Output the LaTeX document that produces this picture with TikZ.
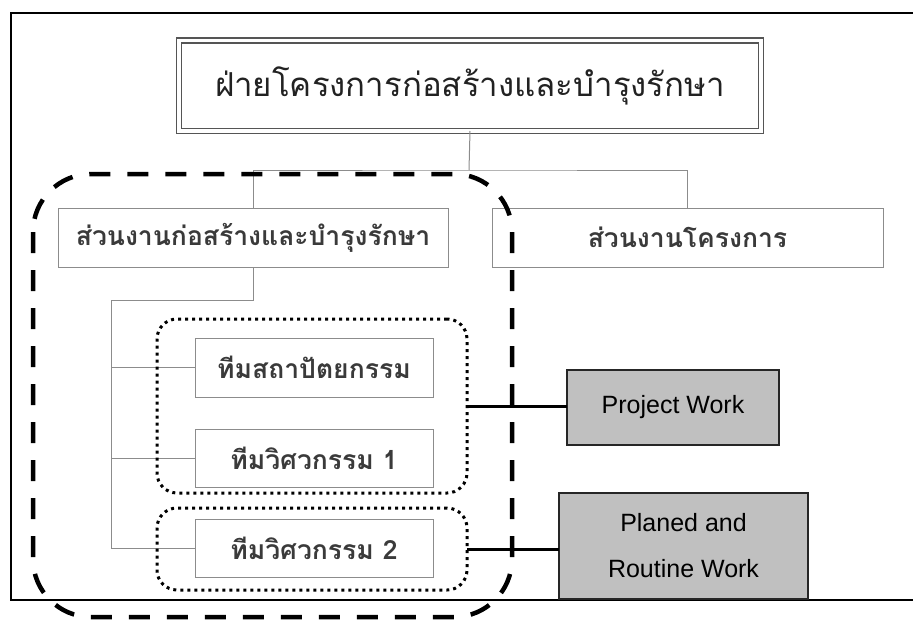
\documentclass[tikz,border=0pt]{standalone}
\usepackage{fontspec}
\setmainfont{Liberation Sans}
\newfontfamily\thaifont[Script=Thai]{Loma}
\definecolor{boxline}{HTML}{8C8C8C}
\definecolor{toptext}{HTML}{222222}
\definecolor{orgtext}{HTML}{3A3A3A}
\definecolor{workfill}{HTML}{C0C0C0}
\definecolor{topline}{HTML}{555555}
\tikzset{
  topbox/.style={draw=topline, double=white, double distance=3.5pt, line width=1.3pt,
    inner sep=0pt, outer sep=0pt, minimum width=582pt, minimum height=90.5pt,
    text=toptext, font=\thaifont\fontsize{33}{40}\selectfont},
  orgbox/.style={draw=boxline, line width=1pt, fill=white, inner sep=0pt, outer sep=0pt,
    text=orgtext, font=\thaifont\bfseries\fontsize{26.5}{30}\selectfont},
  orgline/.style={draw=boxline, line width=1pt},
  grpdot/.style={draw=black, line width=3pt, dash pattern=on 3pt off 4pt,
    rounded corners=20pt, inner sep=0pt, outer sep=0pt},
  bigdash/.style={draw=black, line width=4.5pt, dash pattern=on 21pt off 17pt,
    rounded corners=58pt},
  workbox/.style={draw=black!85, line width=1.5pt, fill=workfill, inner sep=0pt, outer sep=0pt,
    align=center, font=\fontsize{25}{46}\selectfont},
  worklink/.style={draw=black, line width=3pt}
}
\begin{document}
\begin{tikzpicture}[x=1pt,y=-1pt]
\useasboundingbox (0,0) rectangle (913,619);
% frame
\draw[line width=2.5pt] (913,13) -- (11,13) -- (11,600) -- (913,600);
% boxes
\node[topbox] (top) at (470,85.75) {ฝ่ายโครงการก่อสร้างและบำรุงรักษา};
\node[orgbox, minimum width=390pt, minimum height=59pt] (b2) at (253,237.5) {ส่วนงานก่อสร้างและบำรุงรักษา};
\node[orgbox, minimum width=391pt, minimum height=59pt] (b3) at (687.5,237.5) {ส่วนงานโครงการ};
\node[orgbox, minimum width=238pt, minimum height=59pt] (t1) at (314,367.5) {ทีมสถาปัตยกรรม};
\node[orgbox, minimum width=238pt, minimum height=58pt] (t2) at (314,458) {ทีมวิศวกรรม 1};
\node[orgbox, minimum width=238pt, minimum height=58pt] (t3) at (314,548) {ทีมวิศวกรรม 2};
% org connectors
\coordinate (bus) at (469,170);
\coordinate (spine) at (111,300);
\draw[orgline] (top.south) -- (bus);
\draw[orgline] (b2.north) |- (bus) -| (b3.north);
\draw[orgline] (b2.south) |- (spine) -- (spine |- t3.west) -- (t3.west);
\draw[orgline] (spine |- t1.west) -- (t1.west);
\draw[orgline] (spine |- t2.west) -- (t2.west);
% work boxes
\node[workbox, minimum width=212pt, minimum height=75pt] (pw) at (673,407.5) {Project Work};
\node[workbox, minimum width=249pt, minimum height=106pt] (pr) at (683.5,546) {Planed and\\Routine Work};
% groups
\node[grpdot, minimum width=310pt, minimum height=174pt] (g1) at (312,406) {};
\node[grpdot, minimum width=310pt, minimum height=82pt] (g2) at (312,549) {};
\draw[bigdash] (33,174) rectangle (512,617);
% links
\draw[worklink] (g1.east) -- (g1.east -| pw.west);
\draw[worklink] (g2.east) -- (g2.east -| pr.west);
\end{tikzpicture}
\end{document}
